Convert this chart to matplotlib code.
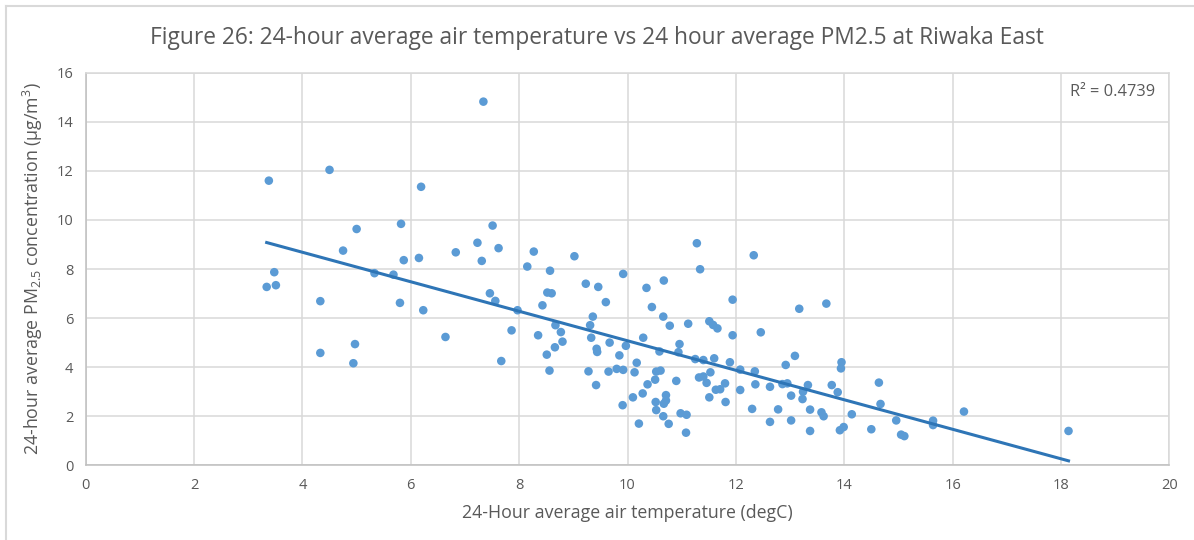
import numpy as np
import matplotlib
matplotlib.use("Agg")
import matplotlib.pyplot as plt
from matplotlib.lines import Line2D

plt.rcParams["font.family"] = ["Open Sans", "DejaVu Sans"]
plt.rcParams["mathtext.fontset"] = "custom"
plt.rcParams["mathtext.rm"] = "Open Sans"
plt.rcParams["mathtext.default"] = "regular"

# 1 Data

air_temp = [
    3.38, 4.50, 5.00, 4.75, 5.33, 3.48, 3.34, 3.51, 4.33, 4.33, 4.97, 4.94,
    7.34, 6.19, 5.82, 7.51, 7.23, 7.62, 6.83, 6.15, 5.87, 7.31, 5.68, 5.80,
    6.23, 7.46, 7.56, 6.64, 7.67, 7.86, 7.97, 8.27, 8.15, 8.57, 9.02, 8.52,
    8.60, 8.43, 8.35, 8.67, 8.77, 8.80, 8.66, 8.51, 8.56, 9.23, 9.46, 9.60,
    9.92, 9.36, 9.31, 9.33, 9.43, 9.44, 9.67, 9.97, 9.85, 9.28, 9.42, 9.65,
    9.80, 9.92, 9.91, 10.17, 10.13, 10.29, 10.35, 10.67, 10.45, 10.66, 10.78, 10.59,
    10.53, 10.61, 10.51, 10.37, 10.28, 10.10, 10.52, 10.71, 10.71, 10.67, 10.53, 10.66,
    10.21, 10.76, 11.28, 11.34, 12.33, 11.94, 13.17, 13.67, 11.12, 11.51, 11.58, 11.66,
    11.94, 12.46, 10.96, 10.94, 11.25, 11.40, 11.60, 11.89, 12.08, 12.35, 12.92, 13.09,
    13.95, 13.94, 10.90, 11.32, 11.40, 11.46, 11.53, 11.80, 11.63, 11.71, 11.51, 11.81,
    12.08, 12.36, 12.63, 12.86, 12.95, 13.02, 13.23, 13.24, 13.33, 13.77, 13.88, 13.37,
    13.58, 13.62, 14.14, 14.64, 14.67, 14.96, 15.05, 15.11, 14.50, 13.99, 13.92, 13.37,
    13.02, 12.63, 12.78, 12.30, 15.64, 15.64, 10.98, 11.09, 11.08, 16.21, 18.14,
]
pm25 = [
    11.60, 12.04, 9.63, 8.75, 7.83, 7.87, 7.27, 7.34, 6.69, 4.58, 4.94, 4.16,
    14.82, 11.35, 9.84, 9.77, 9.07, 8.85, 8.68, 8.45, 8.36, 8.33, 7.77, 6.62,
    6.32, 7.01, 6.70, 5.23, 4.25, 5.50, 6.32, 8.71, 8.10, 7.93, 8.52, 7.04,
    7.01, 6.52, 5.30, 5.71, 5.43, 5.04, 4.81, 4.51, 3.86, 7.40, 7.27, 6.65,
    7.80, 6.06, 5.71, 5.20, 4.75, 4.62, 5.00, 4.87, 4.48, 3.83, 3.27, 3.82,
    3.93, 3.89, 2.45, 4.18, 3.79, 5.20, 7.23, 7.53, 6.45, 6.06, 5.69, 4.64,
    3.82, 3.86, 3.49, 3.30, 2.93, 2.77, 2.58, 2.86, 2.64, 2.51, 2.25, 2.00,
    1.70, 1.69, 9.05, 7.99, 8.56, 6.75, 6.38, 6.59, 5.77, 5.87, 5.72, 5.58,
    5.30, 5.42, 4.94, 4.61, 4.33, 4.29, 4.36, 4.20, 3.90, 3.83, 4.09, 4.46,
    4.20, 3.95, 3.44, 3.58, 3.62, 3.36, 3.79, 3.34, 3.08, 3.10, 2.77, 2.58,
    3.07, 3.30, 3.20, 3.31, 3.34, 2.84, 2.70, 3.00, 3.27, 3.27, 2.98, 2.27,
    2.16, 2.00, 2.08, 3.37, 2.50, 1.83, 1.25, 1.19, 1.47, 1.56, 1.43, 1.40,
    1.83, 1.77, 2.28, 2.30, 1.82, 1.64, 2.12, 2.06, 1.33, 2.19, 1.40,
]
r_squared = "0.4739"

x = np.array(air_temp)
y = np.array(pm25)

# linear trendline, as in the spreadsheet
slope, intercept = np.polyfit(x, y, 1)
x_fit = np.array([x.min(), x.max()])
y_fit = slope * x_fit + intercept

# 2 Scatter chart

grey_text = "#595959"
grid_col = "#D9D9D9"

fig = plt.figure(figsize=(11.94, 5.4), dpi=100)
ax = fig.add_axes([0.0718, 0.1383, 0.9075, 0.7271])

ax.scatter(x, y, s=38, color="#5B9BD5", edgecolors="none", zorder=3)
ax.plot(x_fit, y_fit, color="#2E75B6", linewidth=2.2, zorder=4)

ax.set_xlim(0, 20)
ax.set_ylim(0, 16)
ax.set_xticks(range(0, 21, 2))
ax.set_yticks(range(0, 17, 2))
ax.grid(True, color=grid_col, linewidth=1.1)
ax.set_axisbelow(True)
for side in ["top", "right"]:
    ax.spines[side].set_color(grid_col)
    ax.spines[side].set_linewidth(1.1)
for side in ["left", "bottom"]:
    ax.spines[side].set_color("#BFBFBF")
    ax.spines[side].set_linewidth(1.1)
ax.tick_params(length=0, labelsize=10.5, labelcolor=grey_text, pad=9)

ax.set_xlabel("24-Hour average air temperature (degC)", fontsize=12.8,
              color=grey_text, labelpad=8)
ax.set_ylabel("24-hour average PM$_{2.5}$ concentration (µg/m$^{3}$)",
              fontsize=12.8, color=grey_text, labelpad=8)

fig.text(0.5, 0.93, "Figure 26: 24-hour average air temperature vs 24 hour average PM2.5 at Riwaka East",
         ha="center", va="center", fontsize=16.4, color=grey_text)
ax.text(0.987, 0.97, f"R² = {r_squared}", transform=ax.transAxes,
        ha="right", va="top", fontsize=11.8, color=grey_text)

# chart frame (left and top edges visible in the source)
fig.add_artist(Line2D([0.005, 0.005], [0.0, 0.988], transform=fig.transFigure,
                      color=grid_col, linewidth=1.5))
fig.add_artist(Line2D([0.005, 1.0], [0.988, 0.988], transform=fig.transFigure,
                      color=grid_col, linewidth=1.5))

fig.savefig("out.png", dpi=100)
